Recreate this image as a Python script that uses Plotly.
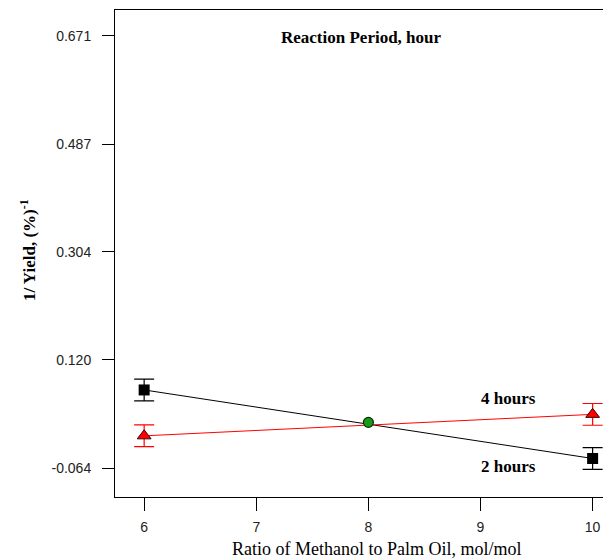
import plotly.graph_objects as go

# Data
ratio_levels = [6, 10]
center_ratio = [8]
yield_inv_2h = [0.069, -0.0475]
yield_inv_4h = [-0.009, 0.0275]
center_value = [0.0139]
err_2h = [0.0185, 0.0185]
err_4h = [0.0185, 0.0185]
y_tick_vals = [-0.064, 0.120, 0.304, 0.487, 0.671]
y_tick_text = ["-0.064", "0.120", "0.304", "0.487", "0.671"]
x_tick_vals = [6, 7, 8, 9, 10]

serif = "Liberation Serif, Times New Roman, serif"
sans = "Liberation Sans, Arial, sans-serif"

fig = go.Figure()

# 2 hours (black)
fig.add_trace(go.Scatter(
    x=ratio_levels, y=yield_inv_2h, mode="lines+markers",
    line=dict(color="black", width=1),
    marker=dict(symbol="square", size=11, color="black"),
    error_y=dict(type="data", array=err_2h, color="black", thickness=1.2, width=10),
    showlegend=False, cliponaxis=False))

# 4 hours (red)
fig.add_trace(go.Scatter(
    x=ratio_levels, y=yield_inv_4h, mode="lines+markers",
    line=dict(color="red", width=1),
    marker=dict(symbol="triangle-up", size=12, color="red",
                line=dict(color="#400000", width=1)),
    error_y=dict(type="data", array=err_4h, color="red", thickness=1.2, width=10),
    showlegend=False, cliponaxis=False))

# center point (green)
fig.add_trace(go.Scatter(
    x=center_ratio, y=center_value, mode="markers",
    marker=dict(symbol="circle", size=10, color="#1a9a1a",
                line=dict(color="#003000", width=1.2)),
    showlegend=False))

fig.update_layout(
    width=603, height=552,
    margin=dict(l=107, r=1, t=2, b=63),
    paper_bgcolor="white", plot_bgcolor="white",
    xaxis=dict(range=[5.74, 10.155], tickvals=x_tick_vals,
               showline=True, mirror=True, linecolor="black", linewidth=1,
               ticks="outside", ticklen=13, tickcolor="black",
               showgrid=False, zeroline=False, ticklabelstandoff=4,
               tickfont=dict(family=sans, size=14, color="#222")),
    yaxis=dict(range=[-0.113, 0.715], tickvals=y_tick_vals, ticktext=y_tick_text,
               showline=True, mirror=True, linecolor="black", linewidth=1,
               ticks="outside", ticklen=12, tickcolor="black",
               showgrid=False, zeroline=False, ticklabelstandoff=8,
               tickfont=dict(family=sans, size=14, color="#222")),
    annotations=[
        dict(text="<b>Reaction Period, hour</b>", x=(361-115)/495, y=(497-38)/487,
             xref="paper", yref="paper", xanchor="center", yanchor="middle",
             showarrow=False, font=dict(family=serif, size=17, color="black")),
        dict(text="<b>4 hours</b>", x=9.25, y=0.0553, xref="x", yref="y",
             xanchor="center", yanchor="middle",
             showarrow=False, font=dict(family=serif, size=17, color="black")),
        dict(text="<b>2 hours</b>", x=9.25, y=-0.0606, xref="x", yref="y",
             xanchor="center", yanchor="middle",
             showarrow=False, font=dict(family=serif, size=17, color="black")),
        dict(text="Ratio of Methanol to Palm Oil, mol/mol", x=(377-115)/495, y=-(549-497)/487,
             xref="paper", yref="paper", xanchor="center", yanchor="middle", showarrow=False,
             font=dict(family=serif, size=18, color="black")),
        dict(text="<b>1/ Yield, (%)<sup>-1</sup></b>", x=-(115-28)/495, y=(497-250)/487,
             xref="paper", yref="paper", xanchor="center", yanchor="middle",
             showarrow=False, textangle=-90,
             font=dict(family=serif, size=17, color="black")),
    ],
)

fig.write_html("out.html")
